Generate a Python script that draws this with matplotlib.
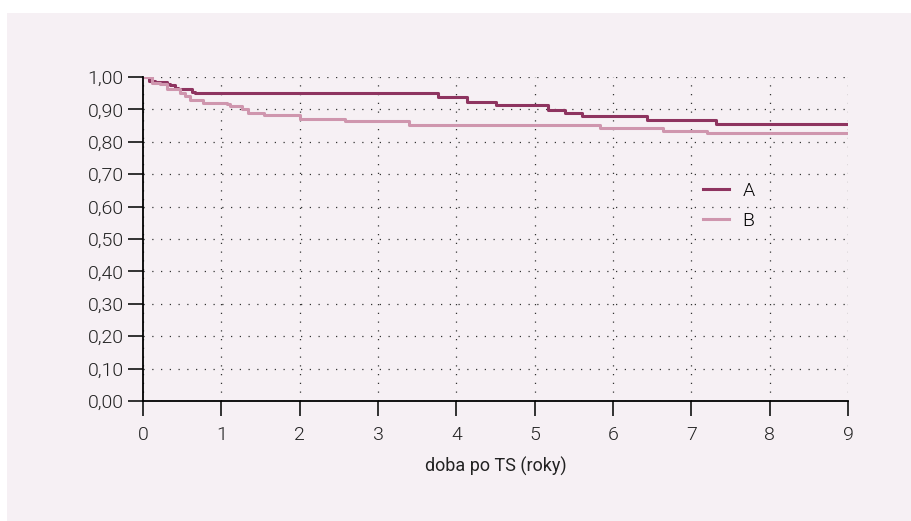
import matplotlib.pyplot as plt
from matplotlib.patches import Rectangle
from matplotlib.ticker import FuncFormatter

# ======================================================
# DATA
# ======================================================
time_a = [0, 0.08, 0.15, 0.31, 0.34, 0.41, 0.45, 0.62, 0.66, 3.77, 4.13,
          4.51, 5.17, 5.39, 5.61, 6.44, 7.32, 9.0]
surv_a = [1.00, 0.989, 0.985, 0.978, 0.974, 0.966, 0.962, 0.954, 0.950, 0.937, 0.923,
          0.914, 0.898, 0.890, 0.880, 0.866, 0.855, 0.855]

time_b = [0, 0.11, 0.22, 0.30, 0.47, 0.53, 0.60, 0.77, 1.07, 1.11, 1.26, 1.34,
          1.54, 2.00, 2.58, 3.39, 5.83, 6.64, 7.20, 9.0]
surv_b = [1.00, 0.982, 0.978, 0.962, 0.950, 0.940, 0.929, 0.919, 0.918, 0.910, 0.900, 0.890,
          0.882, 0.870, 0.863, 0.853, 0.844, 0.834, 0.826, 0.826]

labels = ["A", "B"]
x_ticks = list(range(0, 10))
y_ticks = [i / 10 for i in range(0, 11)]

COL_A = "#8e3460"
COL_B = "#cf96ae"
BG = "#f6f0f4"
TXT = "#222222"

plt.rcParams["font.family"] = ["Roboto", "DejaVu Sans"]
plt.rcParams["font.weight"] = 300

fig = plt.figure(figsize=(9.11, 5.21), dpi=100)
fig.patches.append(Rectangle((7 / 911, 0), 1, (521 - 13) / 521,
                             transform=fig.transFigure, facecolor=BG,
                             edgecolor="none", zorder=-10))

ax = fig.add_axes([143 / 911, 120 / 521, 705 / 911, 324 / 521])
ax.patch.set_alpha(0)

ax.step(time_a, surv_a, where="post", color=COL_A, linewidth=2.2, label=labels[0])
ax.step(time_b, surv_b, where="post", color=COL_B, linewidth=2.2, label=labels[1])

ax.set_xlim(0, 9)
ax.set_ylim(0, 1)
ax.set_xticks(x_ticks)
ax.set_yticks(y_ticks)
ax.yaxis.set_major_formatter(FuncFormatter(lambda v, p: f"{v:.2f}".replace(".", ",")))

ax.grid(True, color="#333333", linestyle=(0, (1, 6)), linewidth=0.9)
for s in ["top", "right"]:
    ax.spines[s].set_visible(False)
for s in ["left", "bottom"]:
    ax.spines[s].set_linewidth(1.3)
ax.tick_params(axis="both", length=11, width=1.3, labelsize=14, color=TXT,
               labelcolor=TXT)
ax.tick_params(axis="x", pad=7)
ax.tick_params(axis="y", pad=3)

ax.set_xlabel("doba po TS (roky)", fontsize=13, color=TXT, labelpad=9)

ax.legend(loc="upper left", bbox_to_anchor=(0.77, 0.73), frameon=False, fontsize=14,
          handlelength=1.3, handletextpad=0.7, labelspacing=0.6)

plt.savefig("out.png", dpi=100)
plt.close()
